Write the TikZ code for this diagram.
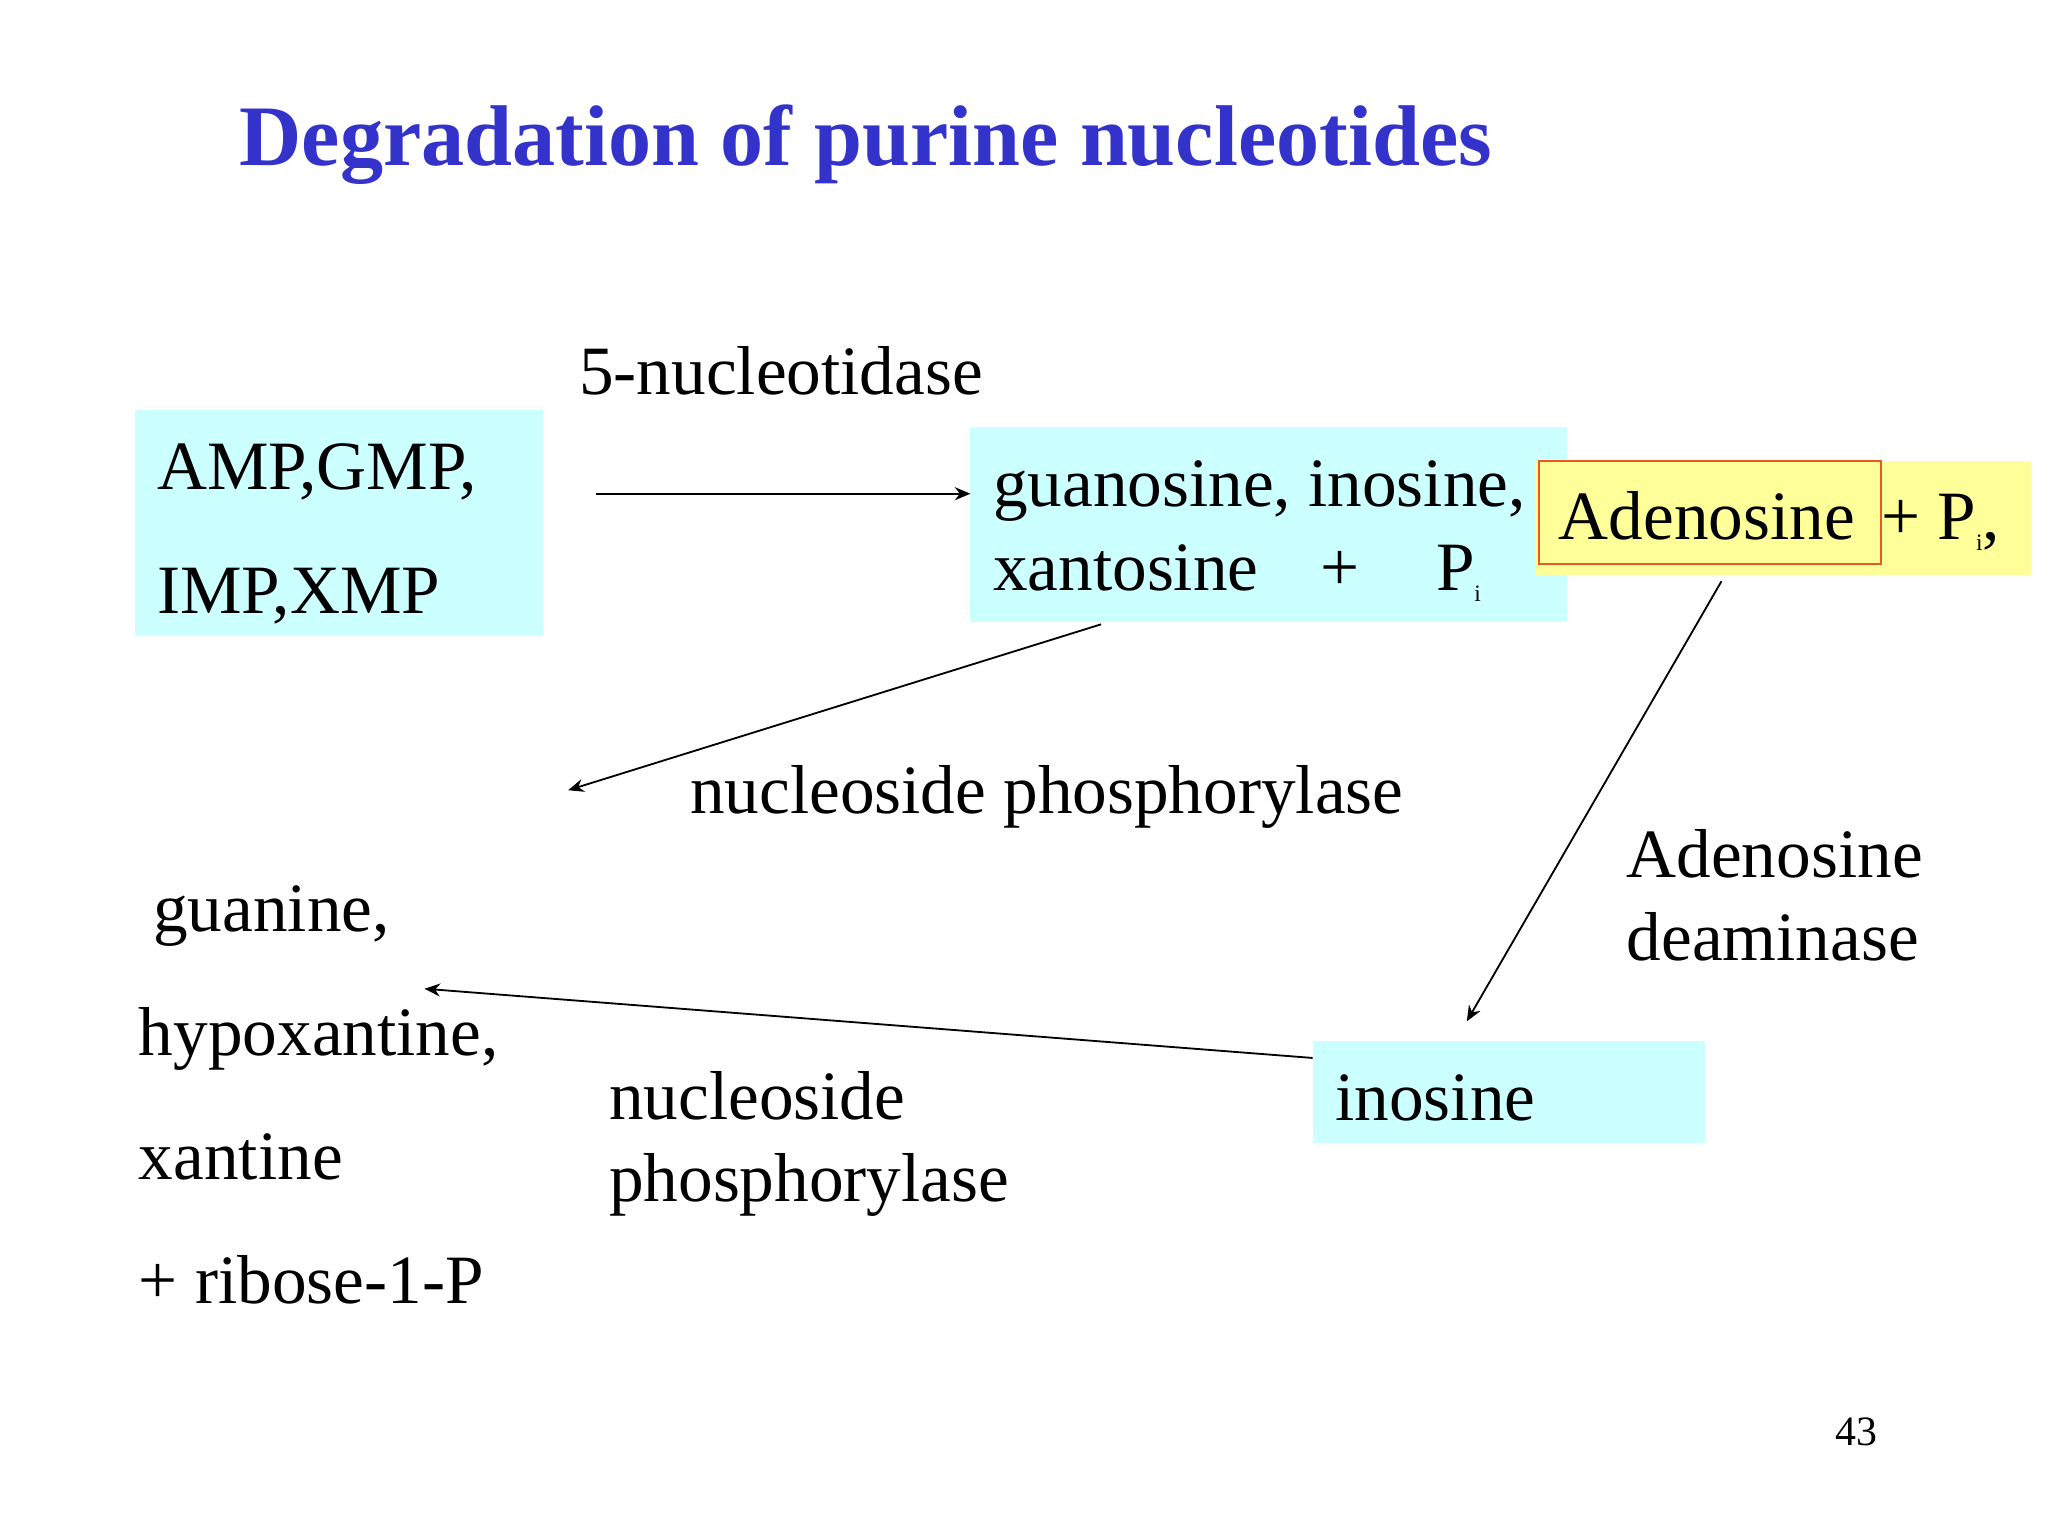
\documentclass[tikz,border=0pt]{standalone}
\usepackage{fontspec}
\setmainfont{Liberation Serif}
\usetikzlibrary{arrows.meta}
\definecolor{boxcyan}{RGB}{204,255,255}
\definecolor{boxyel}{RGB}{255,255,153}
\definecolor{titleblue}{RGB}{51,51,204}
\definecolor{edge}{RGB}{230,90,40}
\newcommand{\subi}{\raisebox{-0.35ex}{\fontsize{9}{10}\selectfont i}}
\tikzset{
  txt/.style={anchor=base west,inner sep=0pt,font=\fontsize{26.5}{30}\selectfont},
  arr/.style={-{Stealth[length=6pt,width=5pt]},line width=0.7pt}
}
\begin{document}
\begin{tikzpicture}[x=0.5pt,y=-0.5pt]
\fill[white] (0,0) rectangle (1568,1176);
\useasboundingbox (0,0) rectangle (1568,1176);
\node[anchor=base west,inner sep=0pt,font=\fontsize{33}{36}\selectfont\bfseries,text=titleblue] (title) at (183,127) {Degradation of purine nucleotides};
% boxes
\fill[boxcyan] (103,314) rectangle (416,487);
\fill[boxcyan] (743,327) rectangle (1200,476);
\fill[boxyel] (1175,353) rectangle (1555,440);
\draw[edge,line width=0.8pt] (1178,353) rectangle (1440,432);
\fill[boxcyan] (1005,797) rectangle (1305,875);
% texts
\node[txt] (amp) at (120,375) {AMP,GMP,};
\node[txt] (imp) at (120,470) {IMP,XMP};
\node[txt] (guan) at (760,388) {guanosine, inosine,};
\node[txt] (xant) at (760,452) {xantosine\hspace{0.9em}+\hspace{1.1em}P\subi};
\node[txt] (aden) at (1193,413) {Adenosine};
\node[txt] (pi) at (1440,413) {+ P\subi,};
\node[txt] (ino) at (1022,858) {inosine};
\node[txt] (nt) at (443,302) {5-nucleotidase};
\node[txt] (np1) at (528,623) {nucleoside phosphorylase};
\node[txt] (ad1) at (1245,672) {Adenosine};
\node[txt] (ad2) at (1245,735) {deaminase};
\node[txt] (g1) at (117,713) {guanine,};
\node[txt] (g2) at (106,808) {hypoxantine,};
\node[txt] (g3) at (106,903) {xantine};
\node[txt] (g4) at (106,998) {+ ribose-1-P};
\node[txt] (np2a) at (466,857) {nucleoside};
\node[txt] (np2b) at (466,920) {phosphorylase};
\node[anchor=base west,inner sep=0pt,font=\fontsize{16}{18}\selectfont] (pg) at (1405,1107) {43};
% arrows
\coordinate (a1s) at (456,378); \coordinate (a1e) at (743,378);
\coordinate (a2s) at (843,478); \coordinate (a2e) at (435,605);
\coordinate (a3s) at (1318,445); \coordinate (a3e) at (1123,782);
\coordinate (a4s) at (1005,810); \coordinate (a4e) at (325,757);
\draw[arr] (a1s) -- (a1e);
\draw[arr] (a2s) -- (a2e);
\draw[arr] (a3s) -- (a3e);
\draw[arr] (a4s) -- (a4e);
\end{tikzpicture}
\end{document}
